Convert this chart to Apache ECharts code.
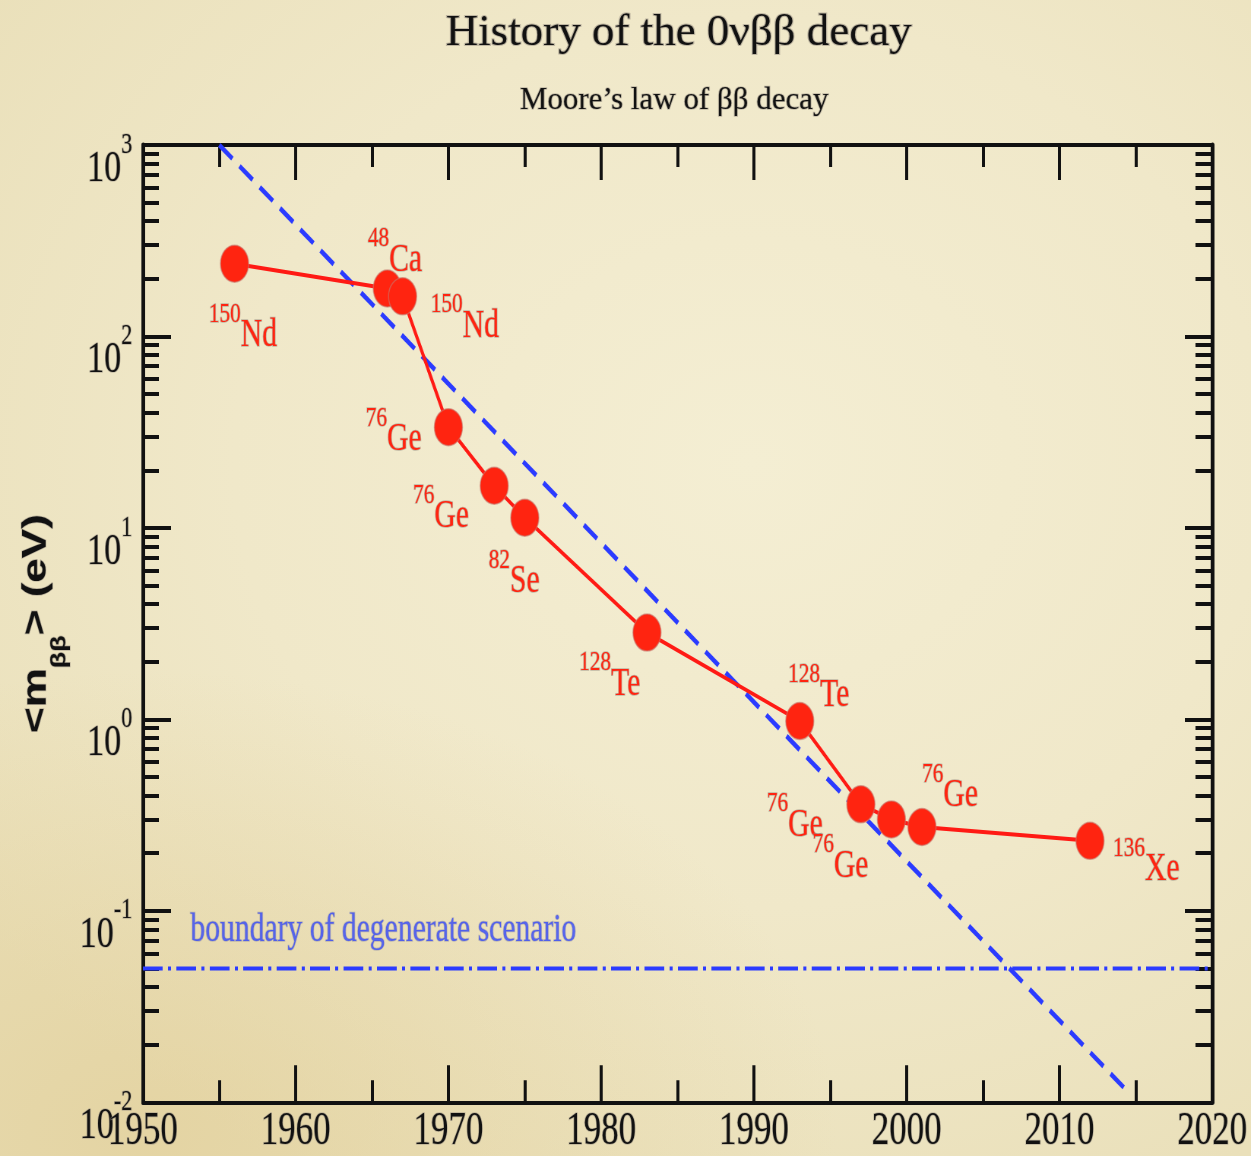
<!DOCTYPE html>
<html><head><meta charset="utf-8">
<script src="https://cdn.jsdelivr.net/npm/echarts@6/dist/echarts.min.js"></script>
<style>
html,body{margin:0;padding:0;width:1251px;height:1156px;overflow:hidden;}
body{background:
  radial-gradient(ellipse 55% 40% at 12% 98%, rgba(222,200,140,0.5) 0%, rgba(222,200,140,0) 100%),
  radial-gradient(ellipse 75% 70% at 60% 40%, #F4EED3 0%, #F0E8C9 55%, #EAE0BA 100%);}
#wrap{position:absolute;left:0;top:0;width:1646px;height:1156px;transform:scaleX(0.76);transform-origin:0 0;}
</style></head><body>
<div id="wrap"></div>
<script>
// ---- data ----
const years = [1956, 1966, 1967, 1970, 1973, 1975, 1983, 1993, 1997, 1999, 2001, 2012];
const mbb   = [240, 178, 162, 33.6, 16.6, 11.3, 2.84, 0.98, 0.36, 0.30, 0.274, 0.232];
const isoMass = ['150', '48', '150', '76', '76', '82', '128', '128', '76', '76', '76', '136'];
const isoName = ['Nd', 'Ca', 'Nd', 'Ge', 'Ge', 'Se', 'Te', 'Te', 'Ge', 'Ge', 'Ge', 'Xe'];
const mooreYears  = [1955, 2014.5];
const mooreValues = [1000, 0.0113];
const boundaryYears  = [1950, 2020];
const boundaryValues = [0.05, 0.05];
const yDecades = [-2, -1, 0, 1, 2, 3];
const titleText = 'History of the 0νββ decay';
const subtitleText = 'Moore’s law of ββ decay';
const boundaryText = 'boundary of degenerate scenario';

// ---- styles ----
const SX = 0.76;
const labelOffsets = [[11,56],[10,-44],[82,14],[-72,-3],[-70,15],[-14,48],[-49,36],[25,-41],[-87,5],[-67,31],[37,-47],[74,13]];
const serif = 'Liberation Serif';
const RED = '#FF2410';
const BLUE = '#2B3BFF';
const halo = 'rgba(150,140,130,0.55)';

const lg = v => Math.log10(v);
const minorTicks = [];
yDecades.slice(0, -1).forEach(k => { for (let m = 2; m <= 9; m++) minorTicks.push(k + Math.log10(m)); });

const chart = echarts.init(document.getElementById('wrap'), null, {renderer: 'canvas', width: 1646, height: 1156});

const yLabelRich = {
  b: {fontFamily: serif, fontSize: 45, lineHeight: 45, padding: [24, 0, 0, 0], verticalAlign: 'top', color: '#111', textBorderColor: halo, textBorderWidth: 1.5},
  s: {fontFamily: serif, fontSize: 29, lineHeight: 29, padding: [8, 0, 0, 0], verticalAlign: 'top', color: '#111', textBorderColor: halo, textBorderWidth: 1.5}
};

function yAxisDef(pos, minor, len) {
  return {
    type: 'value', position: pos, min: -2, max: 3, interval: 1,
    axisLine: minor ? {show: false} : {show: true, onZero: false, lineStyle: {color: '#111', width: 5}},
    axisTick: minor ? {show: true, inside: true, length: len, customValues: minorTicks, lineStyle: {color: '#111', width: 4}}
                    : {show: true, inside: true, length: len, lineStyle: {color: '#111', width: 4}},
    axisLabel: (!minor && pos === 'left') ? {
      show: true, margin: 14, align: 'right', verticalAlign: 'middle',
      formatter: v => '{b|10}{s|' + Math.round(v) + '}', rich: yLabelRich
    } : {show: false},
    splitLine: {show: false}
  };
}

const option = {
  animation: false,
  backgroundColor: 'transparent',
  grid: {left: 188, right: 51, top: 145, bottom: 51, containLabel: false},
  graphic: [
    {type: 'text', x: 893, y: 33, scaleX: 1 / SX, z: 10,
     style: {text: titleText, x: 0, y: 0, align: 'center', verticalAlign: 'middle', fontFamily: serif, fontSize: 45, fill: '#111', stroke: halo, lineWidth: 2}},
    {type: 'text', x: 887, y: 101, scaleX: 1 / SX, z: 10,
     style: {text: subtitleText, x: 0, y: 0, align: 'center', verticalAlign: 'middle', fontFamily: serif, fontSize: 31, fill: '#111', stroke: halo, lineWidth: 1.5}}
  ],
  xAxis: [
    {type: 'value', position: 'bottom', min: 1950, max: 2020, interval: 10,
     axisLine: {show: true, onZero: false, lineStyle: {color: '#111', width: 4}},
     axisTick: {show: true, inside: true, length: 37, lineStyle: {color: '#111', width: 4}},
     minorTick: {show: true, splitNumber: 2, length: 22, lineStyle: {color: '#111', width: 4}},
     axisLabel: {show: true, margin: 7, fontFamily: serif, fontSize: 46, color: '#111', textBorderColor: halo, textBorderWidth: 1.5,
       formatter: v => String(Math.round(v))},
     splitLine: {show: false}},
    {type: 'value', position: 'top', min: 1950, max: 2020, interval: 10,
     axisLine: {show: true, onZero: false, lineStyle: {color: '#111', width: 4}},
     axisTick: {show: true, inside: true, length: 35, lineStyle: {color: '#111', width: 4}},
     minorTick: {show: true, splitNumber: 2, length: 22, lineStyle: {color: '#111', width: 4}},
     axisLabel: {show: false}, splitLine: {show: false}}
  ],
  yAxis: [
    Object.assign(yAxisDef('left', false, 37), {
      name: '{a|<m}{sub|ββ}{a|> (eV)}', nameLocation: 'middle', nameRotate: 90, nameGap: 116,
      nameTextStyle: {rich: {
        a: {fontFamily: 'Liberation Sans', fontWeight: 'bold', fontSize: 44, lineHeight: 44, verticalAlign: 'top', color: '#111', textBorderColor: halo, textBorderWidth: 1.5},
        sub: {fontFamily: 'Liberation Sans', fontWeight: 'bold', fontSize: 27, lineHeight: 28, padding: [40, 0, 0, 0], verticalAlign: 'top', color: '#111', textBorderColor: halo, textBorderWidth: 1.5}
      }}
    }),
    yAxisDef('left', true, 21),
    yAxisDef('right', false, 36),
    yAxisDef('right', true, 22)
  ],
  series: [
    {type: 'line', name: 'boundary', xAxisIndex: 0, yAxisIndex: 0, z: 2,
     data: boundaryYears.map((x, i) => [x, lg(boundaryValues[i])]),
     showSymbol: false, symbol: 'none',
     lineStyle: {color: BLUE, width: 4, type: [26, 7, 4, 7]}},
    {type: 'line', name: 'moore', xAxisIndex: 0, yAxisIndex: 0, z: 2,
     data: mooreYears.map((x, i) => [x, lg(mooreValues[i])]),
     showSymbol: false, symbol: 'none',
     lineStyle: {color: BLUE, width: 5, type: [22, 12]}},
    {type: 'scatter', name: 'boundaryLabel', xAxisIndex: 0, yAxisIndex: 0, z: 3,
     data: [[boundaryYears[0], lg(boundaryValues[0])]],
     symbolSize: 1, itemStyle: {color: 'rgba(0,0,0,0)'}, silent: true,
     label: {show: true, position: 'right', distance: 0, offset: [62, -38],
       formatter: () => boundaryText, fontFamily: serif, fontSize: 39, color: '#3347F8',
       textBorderColor: 'rgba(140,140,170,0.6)', textBorderWidth: 1.5}},
    {type: 'line', name: 'history', xAxisIndex: 0, yAxisIndex: 0, z: 4,
     data: years.map((x, i) => [x, lg(mbb[i])]),
     showSymbol: false, symbol: 'none',
     lineStyle: {color: '#FF1A14', width: 4}},
    {type: 'scatter', name: 'points', xAxisIndex: 0, yAxisIndex: 0, z: 5,
     symbol: 'circle', symbolSize: 37,
     itemStyle: {color: RED, opacity: 1, borderColor: 'rgba(200,120,110,0.6)', borderWidth: 1.5},
     data: years.map((x, i) => ({value: [x, lg(mbb[i])], label: {offset: labelOffsets[i]}})),
     label: {show: true, position: 'inside', align: 'center', verticalAlign: 'middle',
       formatter: p => '{s|' + isoMass[p.dataIndex] + '}{n|' + isoName[p.dataIndex] + '}',
       rich: {
         s: {fontFamily: serif, fontSize: 28, lineHeight: 28, verticalAlign: 'top', color: RED, textBorderColor: halo, textBorderWidth: 1.5},
         n: {fontFamily: serif, fontSize: 39, lineHeight: 39, padding: [16, 0, 0, 0], verticalAlign: 'top', color: RED, textBorderColor: halo, textBorderWidth: 1.5}
       }}}
  ]
};
chart.setOption(option);
</script>
</body></html>
